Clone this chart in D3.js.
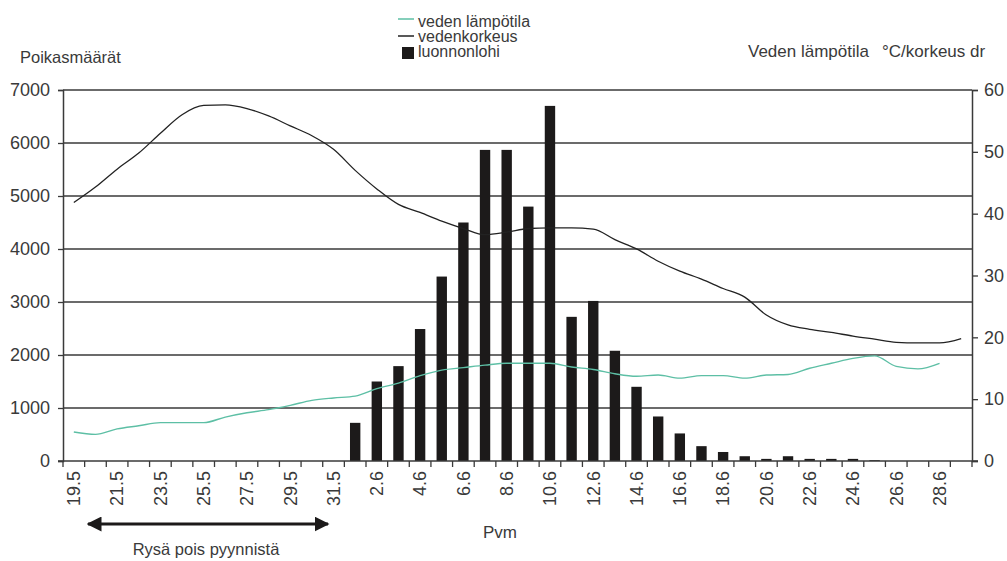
<!DOCTYPE html>
<html><head><meta charset="utf-8">
<script src="https://cdn.jsdelivr.net/npm/d3@7"></script>
<style>
html,body{margin:0;padding:0;background:#fff;}
text{font-family:"Liberation Sans",Arial,sans-serif;fill:#3a3a3a;}
</style></head>
<body><svg id="c" width="1007" height="561"></svg>
<script>
const dates = ["19.5","20.5","21.5","22.5","23.5","24.5","25.5","26.5","27.5","28.5","29.5","30.5","31.5",
  "1.6","2.6","3.6","4.6","5.6","6.6","7.6","8.6","9.6","10.6","11.6","12.6","13.6","14.6","15.6","16.6",
  "17.6","18.6","19.6","20.6","21.6","22.6","23.6","24.6","25.6","26.6","27.6","28.6","29.6"];
const xTickLabels = ["19.5","21.5","23.5","25.5","27.5","29.5","31.5","2.6","4.6","6.6","8.6","10.6","12.6",
  "14.6","16.6","18.6","20.6","22.6","24.6","26.6","28.6"];
const luonnonlohi = [0,0,0,0,0,0,0,0,0,0,0,0,0,
  720,1500,1790,2490,3480,4500,5870,5870,4800,6700,2720,3020,2080,1400,840,520,
  280,170,90,40,90,40,40,40,15,0,0,0,0];
const vedenkorkeus = [41.8,44.3,47.2,49.8,53.0,56.0,57.5,57.6,57.0,55.8,54.2,52.6,50.4,
  47.0,44.0,41.5,40.2,38.8,37.6,36.6,37.0,37.6,37.7,37.7,37.5,35.8,34.3,32.3,30.7,
  29.4,27.9,26.5,23.6,22.0,21.3,20.8,20.2,19.7,19.2,19.1,19.1,19.8];
const vedenLampotila = [4.7,4.3,5.2,5.7,6.2,6.2,6.2,7.1,7.8,8.3,9.0,9.8,10.2,
  10.5,11.7,12.6,13.8,14.7,15.1,15.5,15.8,15.8,15.8,15.2,14.8,14.1,13.7,13.9,13.4,
  13.8,13.8,13.4,13.9,14.0,15.0,15.8,16.6,17.0,15.3,14.9,15.8,null];
const leftTicks = [0,1000,2000,3000,4000,5000,6000,7000];
const rightTicks = [0,10,20,30,40,50,60];
const legendItems = ["veden lämpötila","vedenkorkeus","luonnonlohi"];

const svg = d3.select("#c");
const L = 63, R = 972, T = 90, B = 461;
const x = d3.scaleBand().domain(dates).range([L, R]).padding(0);
const yL = d3.scaleLinear().domain([0, 7000]).range([B, T]);
const yR = d3.scaleLinear().domain([0, 60]).range([B, T]);
const gridCol = "#3a3a3a";

// gridlines
svg.append("g").selectAll("line").data(leftTicks.filter(d => d > 0)).join("line")
  .attr("x1", L).attr("x2", R).attr("y1", d => yL(d)).attr("y2", d => yL(d))
  .attr("stroke", gridCol).attr("stroke-width", 1.5);

// bars
const bw = x.bandwidth() * 0.48;
svg.append("g").selectAll("rect").data(dates.map((d, i) => ({d, v: luonnonlohi[i]})).filter(o => o.v > 0)).join("rect")
  .attr("x", o => x(o.d) + x.bandwidth() / 2 - bw / 2).attr("width", bw)
  .attr("y", o => yL(o.v)).attr("height", o => B - yL(o.v))
  .attr("fill", "#1c1a1a");

// lines
const cx = d => x(d) + x.bandwidth() / 2;
const line = d3.line().defined(p => p[1] != null).x(p => cx(p[0])).y(p => yR(p[1])).curve(d3.curveMonotoneX);
svg.append("path").attr("d", line(dates.map((d, i) => [d, vedenLampotila[i]])))
  .attr("fill", "none").attr("stroke", "#5dbfa5").attr("stroke-width", 1.4);
svg.append("path").attr("d", line(dates.map((d, i) => [d, vedenkorkeus[i]])))
  .attr("fill", "none").attr("stroke", "#222").attr("stroke-width", 1.3);

// left axis
const gL = svg.append("g").attr("transform", `translate(${L},0)`)
  .call(d3.axisLeft(yL).tickValues(leftTicks).tickSize(5).tickPadding(8).tickFormat(d3.format("d")));
// right axis
const gR = svg.append("g").attr("transform", `translate(${R},0)`)
  .call(d3.axisRight(yR).tickValues(rightTicks).tickSize(6).tickPadding(6));
// bottom axis
const gB = svg.append("g").attr("transform", `translate(0,${B})`)
  .call(d3.axisBottom(x).tickValues(xTickLabels).tickSize(0).tickPadding(0));
gB.selectAll(".tick text").attr("transform", "rotate(-90)").attr("text-anchor", "end")
  .attr("x", -10).attr("y", 0).attr("dy", "0.35em");
// band-boundary ticks
svg.append("g").selectAll("line").data(dates.concat(["__end"])).join("line")
  .attr("x1", (d, i) => L + i * x.bandwidth()).attr("x2", (d, i) => L + i * x.bandwidth())
  .attr("y1", B).attr("y2", B + 6).attr("stroke", gridCol).attr("stroke-width", 1.3);

[gL, gR, gB].forEach(g => {
  g.select(".domain").attr("stroke", gridCol).attr("stroke-width", 1.5);
  g.selectAll(".tick line").attr("stroke", gridCol).attr("stroke-width", 1.3);
  g.selectAll(".tick text").style("font-size", "18px").style("font-family", '"Liberation Sans",Arial,sans-serif').attr("fill", "#3a3a3a");
});
gB.select(".domain").attr("d", `M${L - 5},0H${R + 6}`);

// titles
svg.append("text").attr("x", 20).attr("y", 63).style("font-size", "16.5px").text("Poikasmäärät");
svg.append("text").attr("x", 748).attr("y", 57).style("font-size", "17px").text("Veden lämpötila");
svg.append("text").attr("x", 882).attr("y", 57).style("font-size", "17px").text("°C/korkeus dr");
svg.append("text").attr("x", 500).attr("y", 538).attr("text-anchor", "middle").style("font-size", "17px").text("Pvm");
svg.append("text").attr("x", 206).attr("y", 555).attr("text-anchor", "middle").style("font-size", "16.5px").text("Rysä pois pyynnistä");

// arrow
const defs = svg.append("defs");
defs.append("marker").attr("id", "ah").attr("viewBox", "0 0 10 10").attr("refX", 9).attr("refY", 5)
  .attr("markerWidth", 5).attr("markerHeight", 5).attr("orient", "auto-start-reverse").attr("markerUnits", "strokeWidth")
  .append("path").attr("d", "M0,0L10,5L0,10Z").attr("fill", "#1c1a1a");
svg.append("line").attr("x1", 88).attr("x2", 328).attr("y1", 524).attr("y2", 524)
  .attr("stroke", "#1c1a1a").attr("stroke-width", 3)
  .attr("marker-start", "url(#ah)").attr("marker-end", "url(#ah)");

// legend
const lg = svg.append("g");
const ly = [22, 37, 52];
lg.append("line").attr("x1", 398).attr("x2", 414).attr("y1", 19).attr("y2", 19).attr("stroke", "#5dbfa5").attr("stroke-width", 1.5);
lg.append("line").attr("x1", 398).attr("x2", 414).attr("y1", 36).attr("y2", 36).attr("stroke", "#222").attr("stroke-width", 1.5);
lg.append("rect").attr("x", 402).attr("y", 47).attr("width", 12).attr("height", 12).attr("fill", "#1c1a1a");
lg.selectAll("text").data(legendItems).join("text")
  .attr("x", 418).attr("y", (d, i) => ly[i] + 5).style("font-size", "16px").text(d => d);
</script></body></html>
